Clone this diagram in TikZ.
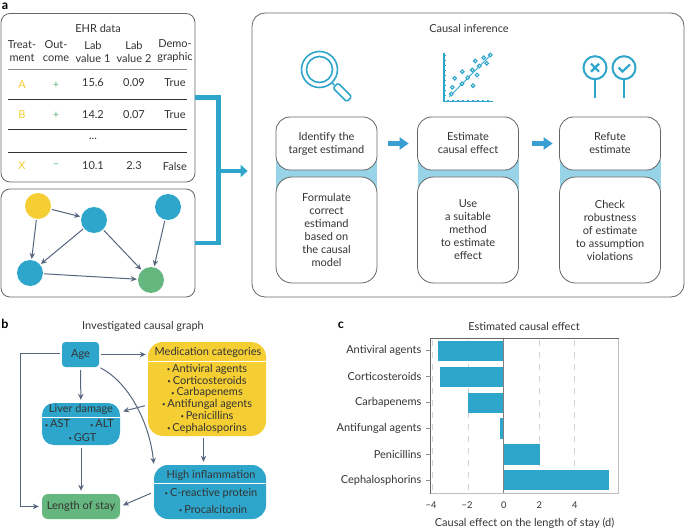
\documentclass[tikz,border=0pt]{standalone}
\usepackage{fontspec}
\setmainfont{Lato}
\usetikzlibrary{arrows.meta,positioning}
\definecolor{ink}{HTML}{333333}
\definecolor{rim}{HTML}{666666}
\definecolor{teal_blue}{HTML}{2EA6CB}
\definecolor{sun}{HTML}{F5CE33}
\definecolor{leaf}{HTML}{65B77F}
\definecolor{pale}{HTML}{97D4E8}
\definecolor{navy}{HTML}{56667F}
\definecolor{pointer}{HTML}{3A9ED2}
\newcommand{\itm}{\raisebox{.15ex}{\scalebox{.55}{•}}\,}
\tikzset{
  panel/.style={draw=rim, line width=.8pt, fill=white, rounded corners=9pt, inner sep=0pt},
  stagebox/.style={panel, rounded corners=14pt, minimum width=101pt, align=center},
  ball/.style={circle, inner sep=0pt, minimum size=26pt},
  flow/.style={-{Stealth[length=6pt,width=5.5pt]}, navy, line width=1pt},
  bridge/.style={teal_blue, line width=4.5pt},
  hop/.style={-{Triangle[length=9pt,width=12pt]}, pointer, line width=4.5pt},
  block/.style={inner sep=0pt, rounded corners=12pt},
  cell/.style={inner sep=0pt},
  divider/.style={white, line width=1pt},
  icon/.style={teal_blue, line width=1.6pt},
  dot/.style={icon, fill=white, line width=1.1pt},
  bar/.style={fill=teal_blue},
  gridmark/.style={draw=black!18, line width=.9pt, dash pattern=on 6pt off 6pt},
  tickmark/.style={draw=black!45, line width=.7pt},
  tag/.style={inner sep=0pt, font=\fontsize{12.5}{13}\bfseries\selectfont, text=black}
}
\begin{document}
\begin{tikzpicture}[x=1pt, y=-1pt, text=ink, every node/.append style={font=\fontsize{11}{13}\selectfont}]
   \useasboundingbox (0,0) rectangle (685,529);

   % panel a, data on the left
   \node[tag] (tag_a) at (5,6.5) {a};
   \node[panel, minimum width=194pt, minimum height=168.5pt] (table) at (98,97.75) {};
   \node[panel, minimum width=194pt, minimum height=108pt] (graph) at (98,243) {};

   \node[cell] (ehr_title) at (98,28) {EHR data};
   \node[cell, align=center] (col_treat) at (22,51.5) {Treat-\\ment};
   \node[cell, align=center] (col_out) at (56,51.5) {Out-\\come};
   \node[cell, align=center] (col_lab_a) at (93,51.5) {Lab\\value 1};
   \node[cell, align=center] (col_lab_b) at (134,51.5) {Lab\\value 2};
   \node[cell, align=center] (col_demo) at (175,51.5) {Demo-\\graphic};
   \draw[black!45, line width=1pt] (8,70) -- (187,70);
   \draw[ink, line width=.7pt] (8,99.5) -- (187,99.5);
   \draw[ink, line width=.7pt] (8,129.5) -- (187,129.5);
   \draw[ink, line width=.7pt] (8,152.5) -- (187,152.5);

   \node[cell, text=sun] (a_treat) at (22,85) {A};
   \node[cell, text=leaf] (a_out) at (56,85) {+};
   \node[cell] (a_lab_a) at (93,83) {15.6};
   \node[cell] (a_lab_b) at (134,83) {0.09};
   \node[cell] (a_demo) at (175,83) {True};
   \node[cell, text=sun] (b_treat) at (22,115) {B};
   \node[cell, text=leaf] (b_out) at (56,115) {+};
   \node[cell] (b_lab_a) at (93,115) {14.2};
   \node[cell] (b_lab_b) at (134,115) {0.07};
   \node[cell] (b_demo) at (175,115) {True};
   \node[cell] (gap_row) at (93,139) {...};
   \node[cell, text=sun] (x_treat) at (22,166) {X};
   \node[cell, text=leaf] (x_out) at (56,166) {–};
   \node[cell] (x_lab_a) at (93,166) {10.1};
   \node[cell] (x_lab_b) at (134,166) {2.3};
   \node[cell] (x_demo) at (175,166) {False};

   % small graph
   \node[ball, fill=sun] (ball_top) at (38,206) {};
   \node[ball, fill=teal_blue] (ball_mid) at (94,220) {};
   \node[ball, fill=teal_blue] (ball_right) at (168,207) {};
   \node[ball, fill=teal_blue] (ball_left) at (30,273) {};
   \node[ball, fill=leaf] (ball_end) at (151,280) {};
   \path[flow, shorten <=1pt, shorten >=1pt]
    (ball_top) edge (ball_mid)
    (ball_top) edge (ball_left)
    (ball_mid) edge (ball_left)
    (ball_mid) edge (ball_end)
    (ball_right) edge (ball_end)
    (ball_left) edge (ball_end);

   % panel a, causal inference
   \node[panel, rounded corners=13pt, minimum width=432pt, minimum height=284pt] (inference) at (468,155) {};
   \node[cell] (inference_title) at (469,28) {Causal inference};

   \fill[pale] (276,160) rectangle (377,192);
   \fill[pale] (417.5,160) rectangle (518.5,192);
   \fill[pale] (559.5,160) rectangle (660.5,192);

   \node[stagebox, minimum height=53pt] (identify) at (326.5,143.5) {Identify the\\target estimand};
   \node[stagebox, minimum height=106pt, rounded corners=16pt] (formulate) at (326.5,230) {Formulate\\correct\\estimand\\based on\\the causal\\model};
   \node[stagebox, minimum height=53pt] (estimate) at (468,143.5) {Estimate\\causal effect};
   \node[stagebox, minimum height=106pt, rounded corners=16pt] (method) at (468,230) {Use\\a suitable\\method\\to estimate\\effect};
   \node[stagebox, minimum height=53pt] (refute) at (610,143.5) {Refute\\estimate};
   \node[stagebox, minimum height=106pt, rounded corners=16pt] (robust) at (610,230) {Check\\robustness\\of estimate\\to assumption\\violations};

   \draw[hop, shorten <=11pt, shorten >=8.5pt] (identify) -- (estimate);
   \draw[hop, shorten <=13pt, shorten >=6.5pt] (estimate) -- (refute);

   % joining bracket
   \coordinate (join) at (218.5,171);
   \draw[bridge] (table.east) -| (join);
   \draw[bridge] (graph.east) -| (join);
   \draw[bridge, -{Triangle[length=7pt,width=12pt]}, shorten >=4pt] (join) -- (join -| inference.west);

   % magnifier
   \draw[icon] (319.5,69.5) circle (18pt);
   \draw[icon] (319.5,69.5) circle (13pt);
   \draw[icon] (331.5,82) -- (334,85);
   \draw[icon, rounded corners=1.5pt] (333,88) -- (338,83) -- (351.7,96.7) -- (346.7,101.7) -- cycle;

   % scatter chart
   \draw[icon] (443.7,53) -- (443.7,101.5) -- (492.5,101.5);
   \draw[icon, line width=.9pt] (449.3,96.7) -- (491.7,54);
   \draw[icon, line width=.8pt, dash pattern=on 1.5pt off 3.5pt] (445,55) -- (445,100);
   \draw[icon, line width=.8pt, dash pattern=on 1.5pt off 3.5pt] (447,100.3) -- (492,100.3);
   \draw[dot] (451.3,94) circle (1.8pt);
   \draw[dot] (452.3,87.3) circle (1.8pt);
   \draw[dot] (454.7,78.3) circle (1.8pt);
   \draw[dot] (462.3,71.7) circle (1.8pt);
   \draw[dot] (462,83.7) circle (1.8pt);
   \draw[dot] (467.7,77.7) circle (1.8pt);
   \draw[dot] (472.3,70) circle (1.8pt);
   \draw[dot] (477,75) circle (1.8pt);
   \draw[dot] (473,85.7) circle (1.8pt);
   \draw[dot] (475.3,61) circle (1.8pt);
   \draw[dot] (479.3,66) circle (1.8pt);
   \draw[dot] (486.7,63.3) circle (1.8pt);
   \draw[dot] (483.7,57.7) circle (1.8pt);
   \draw[dot] (490.3,55) circle (1.8pt);

   % refute pins
   \draw[icon, line width=2pt] (595,67.7) circle (11.5pt);
   \draw[icon, line width=2pt] (595,79.2) -- (595,98.3);
   \draw[icon, line width=2.2pt] (591,63.7) -- (599,71.7);
   \draw[icon, line width=2.2pt] (599,63.7) -- (591,71.7);
   \draw[icon, line width=2pt] (624,67.7) circle (11.5pt);
   \draw[icon, line width=2pt] (624,79.2) -- (624,98.3);
   \draw[icon, line width=2.2pt] (618.5,67.5) -- (622.5,71.5) -- (630,64.5);

   % panel b
   \node[tag] (tag_b) at (5,324) {b};
   \node[cell] (graph_title) at (143,326) {Investigated causal graph};

   \node[block, fill=teal_blue, rounded corners=3.5pt, minimum width=37pt, minimum height=25pt] (age) at (80.5,354.5) {Age};
   \node[block, fill=sun, rounded corners=15pt, minimum width=118pt, minimum height=94pt] (medication) at (207,389) {};
   \node[block, fill=teal_blue, minimum width=78pt, minimum height=42pt] (liver) at (81,424) {};
   \node[block, fill=leaf, rounded corners=6pt, minimum width=78pt, minimum height=25pt] (length) at (81,506.5) {Length of stay};
   \node[block, fill=teal_blue, rounded corners=14pt, minimum width=112pt, minimum height=54pt] (high) at (210,492) {};

   \draw[divider] (medication.west |- 0,361) -- (medication.east |- 0,361);
   \draw[divider] (liver.west |- 0,417) -- (liver.east |- 0,417);
   \draw[divider] (high.west |- 0,483.5) -- (high.east |- 0,483.5);

   \node[cell] (medication_title) at (208,352) {Medication categories};
   \node[cell, align=center, font=\fontsize{11}{11.8}\selectfont] (medication_list) at (207,398.7) {\itm Antiviral agents\\\itm Corticosteroids\\\itm Carbapenems\\\itm Antifungal agents\\\itm Penicillins\\\itm Cephalosporins};
   \node[cell] (liver_title) at (81,409.5) {Liver damage};
   \node[cell] (liver_ast) at (57.5,424) {\itm AST};
   \node[cell] (liver_alt) at (102,424) {\itm ALT};
   \node[cell] (liver_ggt) at (82.5,437.5) {\itm GGT};
   \node[cell] (high_title) at (211,475) {High inflammation};
   \node[cell] (high_crp) at (211,493) {\itm C-reactive protein};
   \node[cell] (high_pct) at (213,509) {\itm Procalcitonin};

   \draw[flow, shorten <=2pt, shorten >=2pt] (age.east) -- (age.east -| medication.west);
   \draw[flow, shorten <=3pt, shorten >=3pt] (age) -- (liver);
   \draw[flow, shorten <=3pt, shorten >=3pt] (liver) -- (length);
   \draw[flow, shorten <=2pt, shorten >=3pt] (medication.south -| 203.5,0) -- (high.north -| 203.5,0);
   \draw[flow, shorten <=3pt, shorten >=3pt] (high.west) -- (length.east);
   \draw[flow, shorten <=3pt, shorten >=3pt] ([yshift=-16pt]medication.west) -- (liver.east |- 0,412);
   \draw[flow, shorten <=2pt, shorten >=3pt] ([yshift=1.5pt]age.west) -- (20.5,353) |- (length.west);
   \draw[flow, shorten <=1.5pt, shorten >=1pt] (age.south east) .. controls (130,383) and (150,425) .. (high.north west);

   % panel c
   \node[tag] (tag_c) at (341,325) {c};
   \node[cell] (plot_title) at (524,326) {Estimated causal effect};
   \node[cell] (plot_axis) at (524.5,523) {Causal effect on the length of stay (d)};

   \draw[gridmark] (432.7,340) -- (432.7,492);
   \draw[gridmark] (468.2,340) -- (468.2,492);
   \draw[gridmark] (539.2,340) -- (539.2,492);
   \draw[gridmark] (574.7,340) -- (574.7,492);

   \fill[bar] (438.3,341) rectangle (503.7,361.3);
   \fill[bar] (439.7,367) rectangle (503.7,387);
   \fill[bar] (468,392.7) rectangle (503.7,413);
   \fill[bar] (500.3,418.3) rectangle (503.7,439);
   \fill[bar] (503.7,444) rectangle (539.5,464.5);
   \fill[bar] (503.7,469.7) rectangle (609.3,490);
   \draw[black!50, line width=.8pt] (503.7,339) -- (503.7,493);
   \draw[rim, line width=.8pt] (430.5,338.5) rectangle (618,493);
   \draw[black!25, line width=.8pt] (618.8,339) -- (618.8,493.7) -- (431,493.7);

   \draw[tickmark] (426,350.7) -- (430.5,350.7);
   \draw[tickmark] (426,376.7) -- (430.5,376.7);
   \draw[tickmark] (426,402.7) -- (430.5,402.7);
   \draw[tickmark] (426,428.7) -- (430.5,428.7);
   \draw[tickmark] (426,454.3) -- (430.5,454.3);
   \draw[tickmark] (426,480) -- (430.5,480);

   \node[cell, anchor=east] (label_antiviral) at (421.5,350.5) {Antiviral agents};
   \node[cell, anchor=east] (label_cortico) at (421.5,376.5) {Corticosteroids};
   \node[cell, anchor=east] (label_carba) at (421.5,402) {Carbapenems};
   \node[cell, anchor=east] (label_antifungal) at (421.5,428) {Antifungal agents};
   \node[cell, anchor=east] (label_penicillins) at (421.5,454) {Penicillins};
   \node[cell, anchor=east] (label_cepha) at (421.5,480) {Cephalosphorins};

   \node[cell, font=\fontsize{9.3}{10}\selectfont] (tick_m4) at (431,505) {−4};
   \node[cell, font=\fontsize{9.3}{10}\selectfont] (tick_m2) at (467,505) {−2};
   \node[cell, font=\fontsize{9.3}{10}\selectfont] (tick_0) at (503.7,505) {0};
   \node[cell, font=\fontsize{9.3}{10}\selectfont] (tick_2) at (539.2,505) {2};
   \node[cell, font=\fontsize{9.3}{10}\selectfont] (tick_4) at (574.7,505) {4};
\end{tikzpicture}
\end{document}
